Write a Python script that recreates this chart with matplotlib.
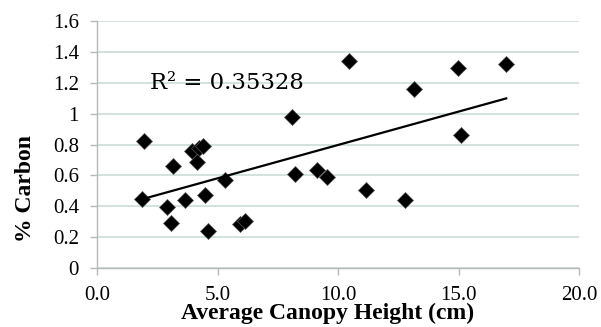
import matplotlib
matplotlib.use("Agg")
import matplotlib.pyplot as plt
import numpy as np

# Data
canopy_height = [1.94, 1.88, 3.16, 2.91, 3.05, 3.67, 3.96, 4.25, 4.40, 4.13, 4.50, 4.61,
                 5.33, 5.93, 6.14, 8.08, 8.21, 10.47, 9.11, 9.53, 11.16, 12.77, 13.16,
                 14.99, 15.12, 16.98]
pct_carbon = [0.823, 0.446, 0.662, 0.392, 0.292, 0.439, 0.759, 0.775, 0.789, 0.688, 0.472, 0.238,
              0.569, 0.283, 0.305, 0.975, 0.612, 1.341, 0.638, 0.590, 0.508, 0.443, 1.157,
              1.293, 0.861, 1.321]
r2_text = "R\u00b2 = 0.35328"
x_ticks = [0, 5, 10, 15, 20]
x_ticklabels = ["0.0", "5.0", "10.0", "15.0", "20.0"]
y_ticks = [0, 0.2, 0.4, 0.6, 0.8, 1.0, 1.2, 1.4, 1.6]
y_ticklabels = ["0", "0.2", "0.4", "0.6", "0.8", "1", "1.2", "1.4", "1.6"]
x_label = "Average Canopy Height (cm)"
y_label = "% Carbon"

W, H = 601, 327
fig = plt.figure(figsize=(W / 100, H / 100), dpi=100)
ax = fig.add_axes([97 / W, (H - 268) / H, (579 - 97) / W, (268 - 21) / H])

ax.set_xlim(0, 20)
ax.set_ylim(0, 1.6)

ax.set_yticks(y_ticks)
ax.set_yticklabels(y_ticklabels, fontfamily="Liberation Serif", fontsize=15)
ax.set_xticks(x_ticks)
ax.set_xticklabels(x_ticklabels, fontfamily="Liberation Serif", fontsize=15)
ax.yaxis.grid(True, color="#d2e2de", linewidth=1.4)
ax.set_axisbelow(True)

for s in ["top", "right"]:
    ax.spines[s].set_visible(False)
for s in ["left", "bottom"]:
    ax.spines[s].set_color("#b8b8b8")
    ax.spines[s].set_linewidth(1.0)

ax.tick_params(axis="y", direction="out", length=5, width=1.0, color="#b8b8b8", pad=8)
ax.tick_params(axis="x", direction="out", length=5, width=1.0, color="#b8b8b8", pad=8)

# scatter
ax.plot(canopy_height, pct_carbon, linestyle="none", marker="D", markersize=8.5,
        markerfacecolor="black", markeredgecolor="#555555", markeredgewidth=0.5, zorder=3)

# trend line
x = np.array(canopy_height)
y = np.array(pct_carbon)
m, b = np.polyfit(x, y, 1)
xs = np.array([x.min(), x.max()])
ax.plot(xs, m * xs + b, color="black", linewidth=1.6, zorder=4)

ax.text(2.19, 1.157, r2_text, fontfamily="DejaVu Serif", fontsize=16.4,
        ha="left", va="baseline", zorder=5)

ax.set_xlabel(x_label, fontfamily="Liberation Serif", fontweight="bold", fontsize=17)
ax.xaxis.label.set_va("baseline")
ax.xaxis.set_label_coords((327.5 - 97) / 482, (268 - 319) / 247)

ax.set_ylabel(y_label, fontfamily="Liberation Serif", fontweight="bold", fontsize=17)
ax.yaxis.label.set_va("center")
ax.yaxis.set_label_coords((26 - 97) / 482, (268 - 189) / 247)

fig.savefig("out.png", dpi=100)
